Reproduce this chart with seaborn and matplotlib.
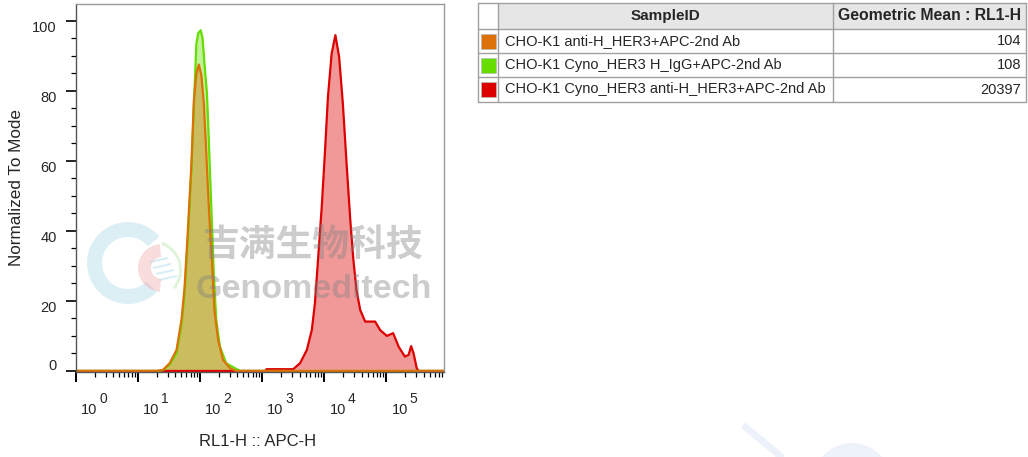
import numpy as np
import pandas as pd
import matplotlib
matplotlib.use("Agg")
import matplotlib.pyplot as plt
import matplotlib.transforms as mtransforms
from matplotlib.patches import Rectangle, Wedge, Circle
from matplotlib.ticker import FixedLocator, LogLocator, NullFormatter
import seaborn as sns

# Muestras y medias geométricas (tabla de la derecha)
samples = [
    "CHO-K1 anti-H_HER3+APC-2nd Ab",
    "CHO-K1 Cyno_HER3 H_IgG+APC-2nd Ab",
    "CHO-K1 Cyno_HER3 anti-H_HER3+APC-2nd Ab",
]
geo_means = ["104", "108", "20397"]
colors = ["#dc7108", "#66dd00", "#dd0000"]

# Histogramas: exponente log10 de RL1-H y % del modo
orange_log = [0.0, 1.30, 1.40, 1.51, 1.62, 1.70, 1.75, 1.80, 1.86, 1.90, 1.94, 1.98,
              2.02, 2.06, 2.10, 2.14, 2.19, 2.23, 2.29, 2.37, 2.48, 2.58, 5.93]
orange_val = [0, 0, 0.3, 2.2, 6.0, 14.6, 24, 39.3, 59.3, 77.4, 85, 87.5,
              84.5, 76.4, 62.1, 46.9, 31.7, 17.4, 8.8, 3.1, 0.8, 0, 0]

green_log = [0.0, 1.30, 1.40, 1.51, 1.62, 1.70, 1.75, 1.80, 1.86, 1.90, 1.94, 1.97,
             2.01, 2.04, 2.07, 2.11, 2.14, 2.18, 2.22, 2.26, 2.32, 2.42, 2.56, 2.65, 5.93]
green_val = [0, 0, 0.2, 1.8, 5.0, 13, 22, 37, 57, 76, 93.5, 96.5,
             97.3, 95, 87.8, 79.3, 66, 46.9, 27.9, 14.6, 6.9, 2.2, 0.8, 0, 0]

red_log = [0.0, 3.05, 3.07, 3.50, 3.61, 3.72, 3.80, 3.85, 3.90, 3.96, 4.01, 4.06,
           4.12, 4.18, 4.24, 4.30, 4.36, 4.42, 4.47, 4.52, 4.58, 4.66, 4.82, 4.90,
           5.01, 5.11, 5.20, 5.30, 5.36, 5.40, 5.44, 5.49, 5.52, 5.93]
red_val = [0, 0, 0.5, 0.5, 2.2, 6.0, 11.7, 19.3, 31.7, 46.9, 62, 78.3,
           90.7, 95.9, 89.7, 76.4, 59.3, 43.1, 31.7, 23.1, 17.4, 14.1, 14.1, 11.7,
           10.0, 10.8, 6.9, 4.1, 4.6, 7.1, 5.0, 0.8, 0, 0]

y_ticks = [0, 20, 40, 60, 80, 100]
decades = [0, 1, 2, 3, 4, 5]

sns.set_style("ticks")
plt.rcParams["font.family"] = ["Liberation Sans", "DejaVu Sans"]

# DataFrame largo para seaborn
curves = [(orange_log, orange_val), (green_log, green_val), (red_log, red_val)]
frames = []
for name, (lx, vy) in zip(samples, curves):
    frames.append(pd.DataFrame({"RL1-H": 10 ** np.array(lx), "pct": vy, "sample": name}))
df = pd.concat(frames, ignore_index=True)

W, H = 1028, 457
fig = plt.figure(figsize=(W / 100, H / 100), dpi=100)
ax = fig.add_axes([76 / W, 1 - 372 / H, (444 - 76) / W, (372 - 4) / H])
ax.set_xscale("log")

# orden de dibujo: rojo, verde, naranja encima
draw_order = [samples[2], samples[1], samples[0]]
palette = dict(zip(samples, colors))
for s in draw_order:
    d = df[df["sample"] == s]
    ax.fill_between(d["RL1-H"], 0, d["pct"], color=palette[s], alpha=0.4, lw=0)
sns.lineplot(data=df, x="RL1-H", y="pct", hue="sample", hue_order=draw_order,
             palette=palette, sort=False, estimator=None, legend=False, lw=1.6, ax=ax)

ax.set_xlim(1, 10 ** 5.93)
ax.set_ylim(-0.3, 104.8)

# ejes
for side in ["top", "right"]:
    ax.spines[side].set_color("#9a9a9a")
    ax.spines[side].set_linewidth(1.0)
for side in ["left", "bottom"]:
    ax.spines[side].set_color("#555555")
    ax.spines[side].set_linewidth(1.0)

ax.yaxis.set_major_locator(FixedLocator(y_ticks))
ax.yaxis.set_minor_locator(FixedLocator(np.arange(5, 105, 5)))
ax.tick_params(axis="y", which="major", length=7.2, width=1.2, color="black", pad=6.5, labelsize=10.5)
ax.tick_params(axis="y", which="minor", length=3.6, width=0.9, color="black")
for lab, v in zip(ax.get_yticklabels(), y_ticks):
    dy = 5 / 72 if v == 0 else -4 / 72
    lab.set_transform(lab.get_transform() + mtransforms.ScaledTranslation(0, dy, fig.dpi_scale_trans))

ax.xaxis.set_major_locator(FixedLocator([10 ** k for k in decades]))
ax.xaxis.set_minor_locator(LogLocator(base=10, subs=np.arange(2, 10), numticks=20))
ax.xaxis.set_major_formatter(NullFormatter())
ax.xaxis.set_minor_formatter(NullFormatter())
ax.tick_params(axis="x", which="major", length=7.2, width=1.4, color="black")
ax.tick_params(axis="x", which="minor", length=3.6, width=0.9, color="black")

# etiquetas estilo FlowJo: "10" con exponente desplazado
for k in decades:
    ax.annotate("10", xy=(10 ** k, 0), xycoords=("data", "axes fraction"),
                xytext=(9.6, -27.5), textcoords="offset points",
                ha="center", va="center", fontsize=10.5)
    ax.annotate(str(k), xy=(10 ** k, 0), xycoords=("data", "axes fraction"),
                xytext=(19.5, -19.5), textcoords="offset points",
                ha="center", va="center", fontsize=10)

ax.set_xlabel("")
ax.set_ylabel("")
fig.text(258 / W, 1 - 442 / H, "RL1-H :: APC-H", ha="center", va="center", fontsize=12)
fig.text(17 / W, 1 - 188 / H, "Normalized To Mode", ha="center", va="center",
         rotation=90, fontsize=12.3)

# capa en píxeles para tabla y marca de agua
ov = fig.add_axes([0, 0, 1, 1], zorder=5)
ov.set_xlim(0, W)
ov.set_ylim(H, 0)
ov.axis("off")
ov.patch.set_alpha(0)

# logo de la marca de agua
ov.add_patch(Wedge((128, 263), 41, 45, 320, width=15, color="#a9d8e8", alpha=0.4, lw=0))
ov.add_patch(Wedge((162, 268), 24, 95, 265, width=13, color="#f2a9a9", alpha=0.4, lw=0))
ov.add_patch(Wedge((152, 270), 30, -70, 40, width=3, color="#bfe6b0", alpha=0.45, lw=0))
for i in range(4):
    ov.plot([150 + i * 3, 168 + i * 3], [262 + i * 6, 258 + i * 6], color="#a9d8e8",
            alpha=0.45, lw=1.5, solid_capstyle="butt")
ov.text(313, 245, "吉满生物科技", ha="center", va="center", fontsize=26.5, fontweight="bold",
        color="#808080", alpha=0.4, family=["Noto Sans CJK SC", "DejaVu Sans"])
ov.text(314, 290, "Genomeditech", ha="center", va="center", fontsize=24.5, fontweight="bold",
        color="#808080", alpha=0.4)
# trazos decorativos abajo a la derecha
ov.plot([743, 785], [425, 460], color="#edf1f9", lw=5, solid_capstyle="butt")
ov.add_patch(Circle((852, 482), 39, color="#eef2fa", lw=0))

# tabla
x0, xc1, xc2, x1 = 478, 498, 833, 1026
rows = [3, 29, 53, 77, 102]
grid = "#a0a0a0"
ov.add_patch(Rectangle((xc1, rows[0]), x1 - xc1, rows[1] - rows[0], facecolor="#e6e6e6", lw=0))
for yv in rows:
    ov.plot([x0, x1], [yv, yv], color=grid, lw=1)
for xv in [x0, xc1, xc2, x1]:
    ov.plot([xv, xv], [rows[0], rows[-1]], color=grid, lw=1)
hy = (rows[0] + rows[1]) / 2
ov.text((xc1 + xc2) / 2, hy, "SampleID", ha="center", va="center", fontsize=11, fontweight="bold")
ov.text((xc2 + x1) / 2, hy, "Geometric Mean : RL1-H", ha="center", va="center",
        fontsize=11.3, fontweight="bold")
for i, (name, gm, c) in enumerate(zip(samples, geo_means, colors)):
    cy = (rows[i + 1] + rows[i + 2]) / 2
    ov.add_patch(Rectangle((481, cy - 7.5), 15, 15, facecolor=c, edgecolor="#bbbbbb", lw=0.5))
    ov.text(505, cy, name, ha="left", va="center", fontsize=10.5)
    ov.text(1021, cy, gm, ha="right", va="center", fontsize=10.5)

fig.savefig("out.png", dpi=100)
plt.close(fig)
